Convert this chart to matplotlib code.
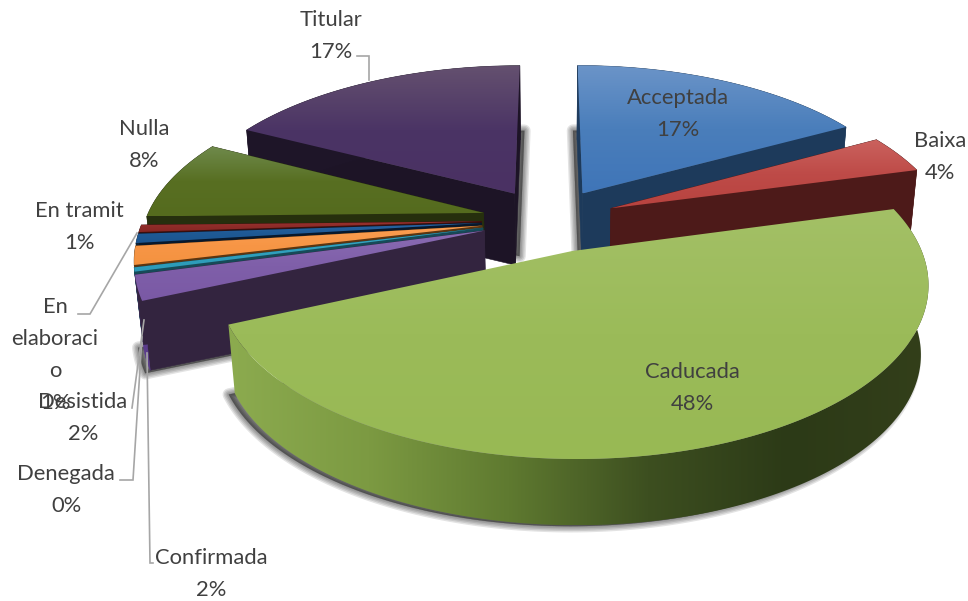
import numpy as np
import matplotlib
matplotlib.use("Agg")
import matplotlib.pyplot as plt
from matplotlib.colors import LinearSegmentedColormap
from matplotlib.patches import Polygon

plt.rcParams['font.family'] = ['Lato', 'DejaVu Sans']

# data, clockwise from 12 o'clock
names = ['Acceptada', 'Baixa', 'Caducada', 'Confirmada', 'Denegada', 'Desistida',
         'En\nelaboraci\no', 'En tramit', 'Nulla', 'Titular']
values = [17.0, 3.8, 47.5, 2.4, 0.4, 1.8, 0.9, 0.7, 7.9, 17.4]

# colours: light top, base top, dark top, rim, cut face
top_light = ['#6b94c8', '#cb625e', '#a3c066', '#8a6cb3', '#3aa9c4', '#fa9e52', '#2a66a3', '#9a3431', '#6f8a4c', '#64506f']
top_base = ['#4a7ebb', '#be4b48', '#9bbb59', '#7f5fa9', '#31a0bd', '#f79646', '#1f5a96', '#8e2b28', '#586f22', '#4b3465']
top_dark = ['#3f75b8', '#b8433f', '#98b954', '#7a59a5', '#2c9ab8', '#f49240', '#1b5590', '#872623', '#556b1e', '#4a3163']
rim_col = ['#1f3c5e', '#4e1a19', '#5f7a30', '#5b3c8c', '#164a58', '#5c3510', '#0c2238', '#3a0f0e', '#262f0e', '#1e1528']
cut_col = ['#1d3a5b', '#4d1a19', '#3a4a1e', '#33243f', '#164a58', '#5c3510', '#07182c', '#3a0f0e', '#262f0d', '#1d1426']

# drawing order, far slices first
order = [9, 0, 8, 1, 7, 6, 5, 4, 3, 2]

# pie projection
cx, cy = 549, 220
sx, sy = 338, 159
persp = 0.176
explode = 0.2
depth = 71
shrink = 0.98

# soft shadows per slice index: dx, dy
shadows = {9: (4, -9), 0: (-4, -9), 1: (3, 4), 2: (-6, 1), 3: (-5, 3)}

# label placement
label_x = [678, 940, 692, 211, 66, 83, 55, 79, 144, 331]
label_y = [114, 157, 388, 574, 490, 418, 355, 227, 145, 36]

# leader lines
leaders = [
    ([357, 369, 369], [56, 56, 80]),
    ([78, 90, 137], [314, 314, 233]),
    ([132, 144], [408, 320]),
    ([120, 133, 142], [480, 480, 337]),
    ([153, 150, 147], [563, 563, 353]),
]


def project(x, y, bottom=False):
    w = 1 + persp * y
    px = sx * x / w
    py = -sy * y / w
    if bottom:
        return cx + shrink * px, cy + depth + shrink * py
    return cx + px, cy + py


def gradient(ax, pts, colors, z, horizontal=False):
    # colour ramp clipped to a polygon
    patch = Polygon(pts, closed=True, fc='none', ec='none', zorder=z)
    ax.add_patch(patch)
    ramp = np.linspace(0, 1, 256)
    ramp = ramp.reshape(1, -1) if horizontal else ramp.reshape(-1, 1)
    extent = (pts[:, 0].min(), pts[:, 0].max(), pts[:, 1].max(), pts[:, 1].min())
    cmap = LinearSegmentedColormap.from_list('g', colors)
    im = ax.imshow(ramp, cmap=cmap, extent=extent, aspect='auto', origin='upper', zorder=z)
    im.set_clip_path(patch)


fig = plt.figure(figsize=(9.68, 6.01), dpi=100)
ax = fig.add_axes([0, 0, 1, 1])

total = sum(values)
edges = np.concatenate([[0], np.cumsum(values)]) / total * 2 * np.pi

z = 1
for i in order:
    a0, a1 = edges[i], edges[i + 1]
    mid = (a0 + a1) / 2
    ox = explode * np.sin(mid)
    oy = explode * np.cos(mid)
    t = np.linspace(a0, a1, 3 + int(np.degrees(a1 - a0)))
    xs = ox + np.sin(t)
    ys = oy + np.cos(t)

    ax_t, ay_t = project(xs, ys)
    ax_b, ay_b = project(xs, ys, bottom=True)
    apx_t, apy_t = project(ox, oy)
    apx_b, apy_b = project(ox, oy, bottom=True)

    top = np.column_stack([np.r_[apx_t, ax_t], np.r_[apy_t, ay_t]])
    bot = np.column_stack([np.r_[apx_b, ax_b], np.r_[apy_b, ay_b]])
    rim = np.column_stack([np.r_[ax_t, ax_b[::-1]], np.r_[ay_t, ay_b[::-1]]])
    cut0 = np.array([[apx_t, apy_t], [ax_t[0], ay_t[0]], [ax_b[0], ay_b[0]], [apx_b, apy_b]])
    cut1 = np.array([[apx_t, apy_t], [ax_t[-1], ay_t[-1]], [ax_b[-1], ay_b[-1]], [apx_b, apy_b]])

    if i in shadows:
        dx, dy = shadows[i]
        shifted = bot + [dx, dy]
        for lw in (9, 7, 5, 3, 1):
            ax.add_patch(Polygon(shifted, closed=True, fc='#000000', ec='#000000',
                                 alpha=0.11, lw=lw, joinstyle='round', zorder=z))
        z += 1

    if i != 2:
        ax.add_patch(Polygon(cut0, closed=True, fc=cut_col[i], ec=cut_col[i], lw=0.4, zorder=z))
    z += 1
    if i == 2:
        # the big slice has a lit rim that falls off to the right
        gradient(ax, rim, ['#8cab4f', '#7c9a42', '#5f7a30', '#3d4f20', '#2c3a17', '#333f1a'], z, horizontal=True)
    else:
        ax.add_patch(Polygon(rim, closed=True, fc=rim_col[i], ec=rim_col[i], lw=0.4, zorder=z))
    z += 1
    if i != 2:
        ax.add_patch(Polygon(cut1, closed=True, fc=cut_col[i], ec=cut_col[i], lw=0.4, zorder=z))
    z += 1
    gradient(ax, top, [top_light[i], top_base[i], top_dark[i]], z)
    z += 1

for lx, ly in leaders:
    ax.plot(lx, ly, color='#a6a6a6', lw=1.2, zorder=z, solid_joinstyle='miter')
z += 1

for i, name in enumerate(names):
    pct = '%d%%' % round(values[i] / total * 100)
    ax.text(label_x[i], label_y[i], name + '\n' + pct, ha='center', va='center',
            fontsize=15.8, color='#404040', linespacing=1.73, zorder=z)

ax.set_xlim(0, 968)
ax.set_ylim(601, 0)
ax.axis('off')
fig.savefig('out.png', dpi=100, facecolor='white')
